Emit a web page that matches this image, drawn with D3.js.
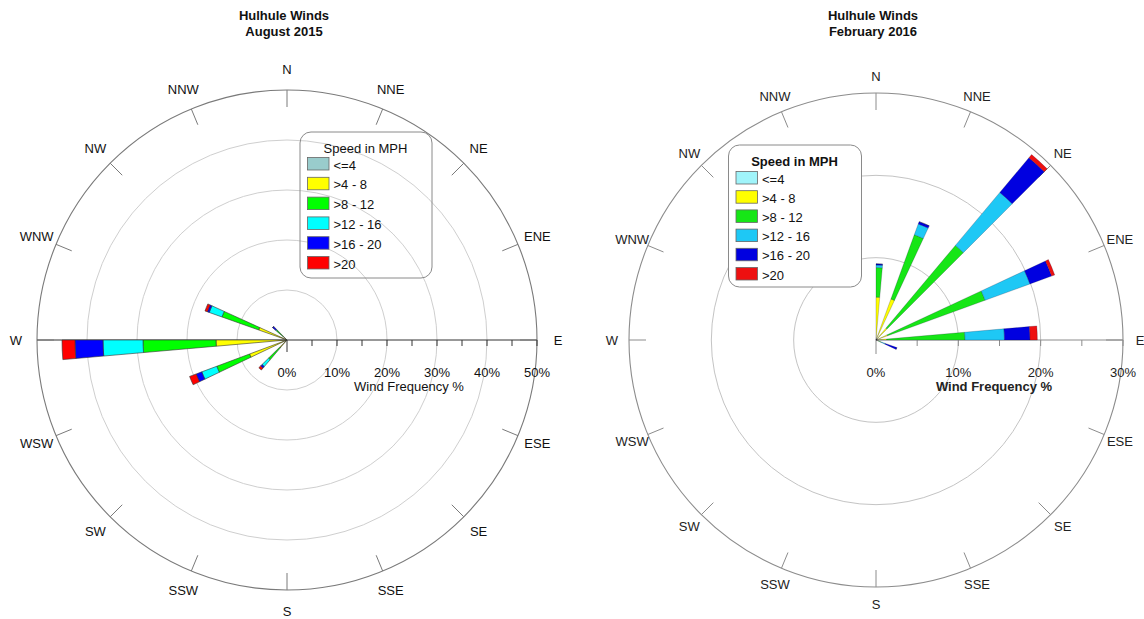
<!DOCTYPE html>
<html>
<head>
<meta charset="utf-8">
<script src="https://cdn.jsdelivr.net/npm/d3@7"></script>
<style>
  body { margin: 0; background: #fff; }
  svg { display: block; font-family: "Liberation Sans", Arial, sans-serif; }
</style>
</head>
<body>
<svg id="chart" width="1144" height="619"></svg>
<script>
// Speed classes shared by both roses
const speedClasses = ["<=4", ">4 - 8", ">8 - 12", ">12 - 16", ">16 - 20", ">20"];
const compassPoints = ["N", "NNE", "NE", "ENE", "E", "ESE", "SE", "SSE",
                       "S", "SSW", "SW", "WSW", "W", "WNW", "NW", "NNW"];

// August 2015 — petal bearings (degrees clockwise from north)
const augDirections = [223, 247, 267.5, 292, 313];
// frequency (%) of each speed class for each petal
const augLe4    = [0.1, 0.2, 0.2, 0.2, 0.1];
const aug4to8   = [1.9, 7.8, 14.0, 5.8, 0.9];
const aug8to12  = [3.2, 7.0, 14.6, 7.8, 1.8];
const aug12to16 = [1.8, 3.2, 8.0, 2.7, 0.2];
const aug16to20 = [0.4, 1.2, 5.6, 0.4, 0.8];
const augOver20 = [0.5, 1.4, 2.6, 0.5, 0.0];
const augTicks  = [0, 10, 20, 30, 40, 50];
const augColors = ["#99cccc", "#ffff00", "#00ff00", "#00ffff", "#0000ff", "#ff0000"];

// February 2016 — petal bearings (degrees clockwise from north)
const febDirections = [2.5, 22.5, 42.5, 67.5, 87.5, 112.5];
const febLe4    = [0.2, 0.2, 0.1, 0.1, 0.1, 0.0];
const feb4to8   = [5.0, 5.1, 1.8, 1.4, 1.2, 0.3];
const feb8to12  = [3.6, 8.3, 13.1, 12.6, 9.5, 0.4];
const feb12to16 = [0.3, 1.4, 8.4, 5.8, 4.8, 0.5];
const feb16to20 = [0.15, 0.3, 5.5, 2.8, 3.1, 1.5];
const febOver20 = [0.0, 0.0, 0.5, 0.4, 0.9, 0.0];
const febTicks  = [0, 10, 20, 30];
const febColors = ["#a0f4fa", "#ffff00", "#16e616", "#1ec8f5", "#0000e0", "#ee1010"];

const svg = d3.select("#chart");
const rad = d => d * Math.PI / 180;

function drawRose(o) {
  const g = svg.append("g").attr("transform", `translate(${o.cx},${o.cy})`);
  const max = o.ticks[o.ticks.length - 1];
  const r = d3.scaleLinear().domain([0, max]).range([0, o.radius]);

  // title
  const t = svg.append("text").attr("x", o.titleX).attr("y", 20)
    .attr("text-anchor", "middle").attr("font-weight", "bold")
    .attr("font-size", 13).attr("fill", "#111");
  t.append("tspan").attr("x", o.titleX).attr("y", 20).text(o.title[0]);
  t.append("tspan").attr("x", o.titleX).attr("y", 36).text(o.title[1]);

  // inner rings
  g.selectAll("circle.ring")
    .data(o.ticks.filter(v => v > 0 && v < max))
    .join("circle")
    .attr("class", "ring")
    .attr("r", d => r(d))
    .attr("fill", "none")
    .attr("stroke", o.ringColor)
    .attr("stroke-width", 1);

  // outer ring
  g.append("circle").attr("r", r(max))
    .attr("fill", "none").attr("stroke", o.outerColor).attr("stroke-width", 1.1);

  // horizontal axis
  g.append("line")
    .attr("x1", o.fullAxis ? -r(max) : 0).attr("x2", r(max))
    .attr("y1", 0).attr("y2", 0)
    .attr("stroke", o.axisColor).attr("stroke-width", 1);

  // compass ticks and labels
  compassPoints.forEach((p, i) => {
    const a = rad(i * 22.5);
    const sx = Math.sin(a), sy = -Math.cos(a);
    g.append("line")
      .attr("x1", sx * (r(max) - 17)).attr("y1", sy * (r(max) - 17))
      .attr("x2", sx * r(max)).attr("y2", sy * r(max))
      .attr("stroke", o.outerColor).attr("stroke-width", 1);
    g.append("text")
      .attr("x", sx * o.labelR).attr("y", sy * o.labelR)
      .attr("dy", "0.36em")
      .attr("text-anchor", "middle")
      .attr("font-size", 13)
      .attr("fill", o.textColor)
      .text(p);
  });

  // minor ticks every 5% along the axis
  const minor = d3.range(0, max + 0.01, 5);
  g.selectAll("line.minor").data(minor).join("line")
    .attr("class", "minor")
    .attr("x1", d => r(d)).attr("x2", d => r(d))
    .attr("y1", 0).attr("y2", d => d === 0 ? o.zeroTick : 6)
    .attr("stroke", o.axisColor).attr("stroke-width", 1);

  // tick labels
  g.selectAll("text.tick").data(o.ticks).join("text")
    .attr("class", "tick")
    .attr("x", d => r(d)).attr("y", 37)
    .attr("text-anchor", "middle").attr("font-size", 13)
    .attr("fill", o.textColor)
    .text(d => d + "%");

  g.append("text")
    .attr("x", o.axisTitleX).attr("y", 51)
    .attr("text-anchor", "middle").attr("font-size", 13)
    .attr("font-weight", o.axisTitleBold ? "bold" : "normal")
    .attr("fill", o.textColor)
    .text("Wind Frequency %");

  // stacked petals
  const rows = o.dirs.map((d, i) => {
    const row = { dir: d };
    o.series.forEach((s, k) => row[k] = s[i]);
    return row;
  });
  const stacked = d3.stack().keys(d3.range(o.series.length))(rows);
  const arc = d3.arc();
  stacked.forEach((layer, k) => {
    g.selectAll(null).data(layer).join("path")
      .attr("d", d => arc({
        innerRadius: r(d[0]), outerRadius: r(d[1]),
        startAngle: rad(d.data.dir - 2.5), endAngle: rad(d.data.dir + 2.5)
      }))
      .attr("fill", o.colors[k])
      .attr("stroke", o.petalStroke)
      .attr("stroke-width", 0.6);
  });

  // legend
  const L = o.legend;
  const lg = svg.append("g").attr("transform", `translate(${L.x},${L.y})`);
  lg.append("rect").attr("width", L.w).attr("height", L.h).attr("rx", 11)
    .attr("fill", L.fill).attr("stroke", "#8a8a8a").attr("stroke-width", 1);
  lg.append("text").attr("x", L.w / 2 - 0.5).attr("y", L.titleY)
    .attr("text-anchor", "middle").attr("font-size", 13)
    .attr("font-weight", L.bold ? "bold" : "normal")
    .attr("fill", "#111").text("Speed in MPH");
  speedClasses.forEach((s, k) => {
    const y = L.firstY + k * L.step;
    lg.append("rect").attr("x", L.sx).attr("y", y).attr("width", 21.5).attr("height", 12.5)
      .attr("fill", o.colors[k]).attr("stroke", "#666").attr("stroke-width", 0.8);
    lg.append("text").attr("x", L.sx + 26).attr("y", y + 12)
      .attr("font-size", 13).attr("fill", "#111").text(s);
  });
}

drawRose({
  cx: 287, cy: 340, radius: 250, labelR: 271, ticks: augTicks,
  title: ["Hulhule Winds", "August 2015"], titleX: 284,
  dirs: augDirections,
  series: [augLe4, aug4to8, aug8to12, aug12to16, aug16to20, augOver20],
  colors: augColors,
  ringColor: "#cfcfcf", outerColor: "#7a7a7a", axisColor: "#333",
  textColor: "#111", fullAxis: true, zeroTick: 12,
  axisTitleX: 122, axisTitleBold: false, petalStroke: "#333",
  legend: { x: 300, y: 132, w: 132, h: 146, fill: "none", bold: false,
            titleY: 21, sx: 7.5, firstY: 25.5, step: 19.8 }
});

drawRose({
  cx: 876, cy: 340, radius: 247, labelR: 264, ticks: febTicks,
  title: ["Hulhule Winds", "February 2016"], titleX: 873,
  dirs: febDirections,
  series: [febLe4, feb4to8, feb8to12, feb12to16, feb16to20, febOver20],
  colors: febColors,
  ringColor: "#c4c4c4", outerColor: "#8c8c8c", axisColor: "#8c8c8c",
  textColor: "#222", fullAxis: false, zeroTick: 14,
  axisTitleX: 118, axisTitleBold: true, petalStroke: "rgba(0,0,40,0.35)",
  legend: { x: 728.5, y: 145, w: 133, h: 142, fill: "#fff", bold: true,
            titleY: 21, sx: 7.5, firstY: 26.5, step: 19.2 }
});
</script>
</body>
</html>
